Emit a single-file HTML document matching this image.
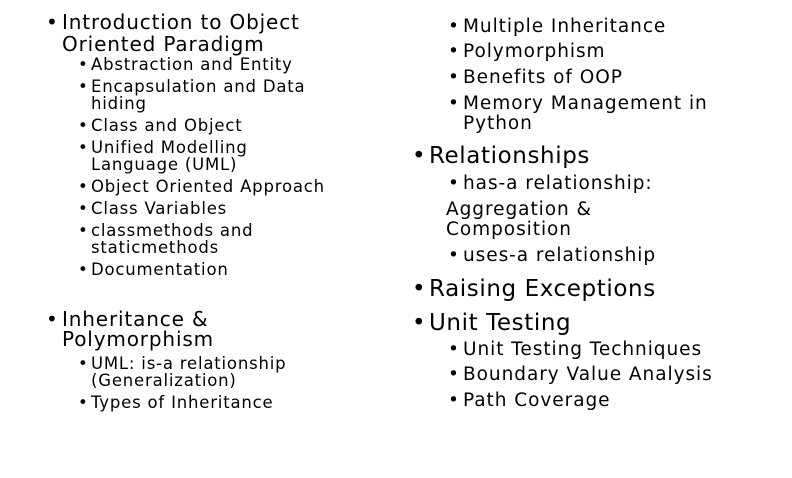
<!DOCTYPE html>
<html><head><meta charset="utf-8"><style>
body{margin:0;width:792px;height:478px;background:#fff;position:relative;overflow:hidden;font-family:"DejaVu Sans","Liberation Sans",sans-serif;color:#000}
.l{position:absolute;white-space:nowrap;line-height:20px;height:20px}
.a{font-size:20px;letter-spacing:0.85px}.b{font-size:16.5px;letter-spacing:0.8px}.c{font-size:18.5px;letter-spacing:0.95px}.d{font-size:23px;letter-spacing:0.6px}
</style></head><body>
<div class="l a" style="left:46px;top:12px">•</div>
<div class="l a" style="left:62px;top:12px">Introduction to Object</div>
<div class="l a" style="left:62px;top:34px">Oriented Paradigm</div>
<div class="l b" style="left:78px;top:55px">•</div><div class="l b" style="left:91px;top:55px">Abstraction and Entity</div>
<div class="l b" style="left:78px;top:77px">•</div><div class="l b" style="left:91px;top:77px">Encapsulation and Data</div>
<div class="l b" style="left:91px;top:94px">hiding</div>
<div class="l b" style="left:78px;top:116px">•</div><div class="l b" style="left:91px;top:116px">Class and Object</div>
<div class="l b" style="left:78px;top:138px">•</div><div class="l b" style="left:91px;top:138px">Unified Modelling</div>
<div class="l b" style="left:91px;top:155px">Language (UML)</div>
<div class="l b" style="left:78px;top:177px">•</div><div class="l b" style="left:91px;top:177px">Object Oriented Approach</div>
<div class="l b" style="left:78px;top:199px">•</div><div class="l b" style="left:91px;top:199px">Class Variables</div>
<div class="l b" style="left:78px;top:221px">•</div><div class="l b" style="left:91px;top:221px">classmethods and</div>
<div class="l b" style="left:91px;top:238px">staticmethods</div>
<div class="l b" style="left:78px;top:260px">•</div><div class="l b" style="left:91px;top:260px">Documentation</div>
<div class="l a" style="left:46px;top:309px">•</div>
<div class="l a" style="left:62px;top:309px">Inheritance &amp;</div>
<div class="l a" style="left:62px;top:329px">Polymorphism</div>
<div class="l b" style="left:78px;top:354px">•</div><div class="l b" style="left:91px;top:354px">UML: is-a relationship</div>
<div class="l b" style="left:91px;top:371px">(Generalization)</div>
<div class="l b" style="left:78px;top:393px">•</div><div class="l b" style="left:91px;top:393px">Types of Inheritance</div>

<div class="l c" style="left:448px;top:17px">•</div><div class="l c" style="left:463px;top:17px">Multiple Inheritance</div>
<div class="l c" style="left:448px;top:42px">•</div><div class="l c" style="left:463px;top:42px">Polymorphism</div>
<div class="l c" style="left:448px;top:68px">•</div><div class="l c" style="left:463px;top:68px">Benefits of OOP</div>
<div class="l c" style="left:448px;top:94px">•</div><div class="l c" style="left:463px;top:94px">Memory Management in</div>
<div class="l c" style="left:463px;top:114px">Python</div>
<div class="l d" style="left:412px;top:146px">•</div><div class="l d" style="left:429px;top:146px">Relationships</div>
<div class="l c" style="left:448px;top:174px">•</div><div class="l c" style="left:463px;top:174px">has-a relationship:</div>
<div class="l c" style="left:446px;top:200px">Aggregation &amp;</div>
<div class="l c" style="left:446px;top:220px">Composition</div>
<div class="l c" style="left:448px;top:246px">•</div><div class="l c" style="left:463px;top:246px">uses-a relationship</div>
<div class="l d" style="left:412px;top:279px">•</div><div class="l d" style="left:429px;top:279px">Raising Exceptions</div>
<div class="l d" style="left:412px;top:313px">•</div><div class="l d" style="left:429px;top:313px">Unit Testing</div>
<div class="l c" style="left:448px;top:340px">•</div><div class="l c" style="left:463px;top:340px">Unit Testing Techniques</div>
<div class="l c" style="left:448px;top:365px">•</div><div class="l c" style="left:463px;top:365px">Boundary Value Analysis</div>
<div class="l c" style="left:448px;top:391px">•</div><div class="l c" style="left:463px;top:391px">Path Coverage</div>
</body></html>
